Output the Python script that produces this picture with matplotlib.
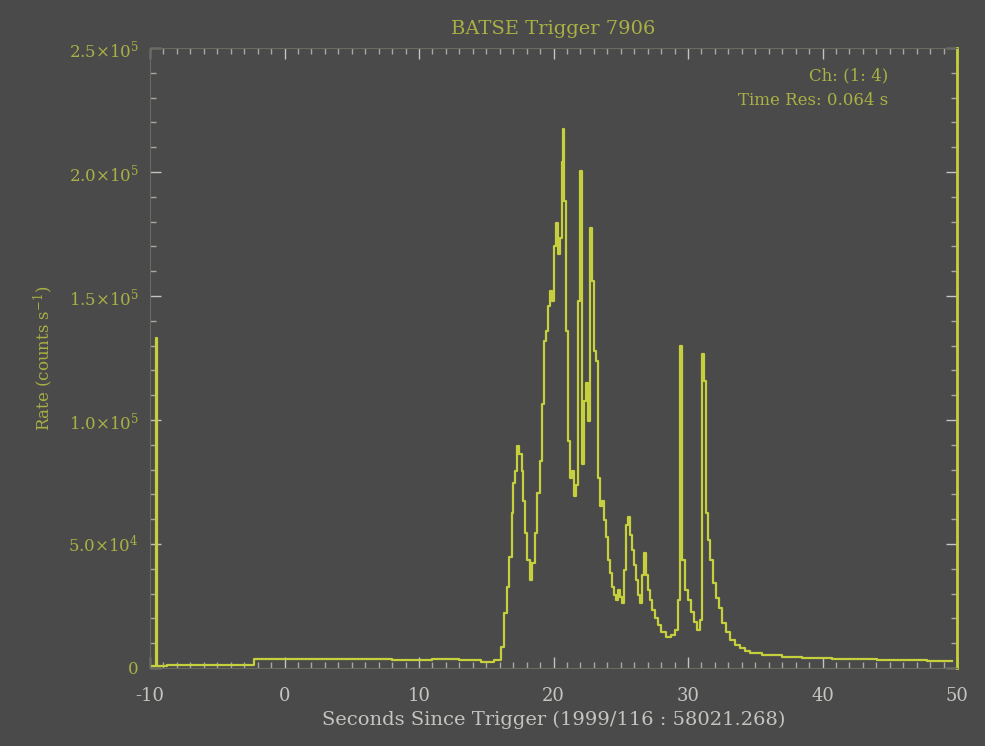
import matplotlib

matplotlib.use("Agg")
import matplotlib.pyplot as plt
from matplotlib.ticker import MultipleLocator

# light curve: seconds since trigger, counts per second
t_sec = [
    -10.0, -9.55, -9.5, -9.45, -8.0, -6.0, -4.0, -3.0, -1.5, 2.0, 6.0, 10.0, 12.0, 14.0, 15.2,
    15.93, 16.23, 16.45, 16.60, 16.83, 16.97, 17.05, 17.20, 17.35, 17.57, 17.72, 17.79,
    17.94, 18.17, 18.32, 18.54, 18.69, 18.91, 19.06, 19.21, 19.36, 19.51, 19.66, 19.81,
    19.96, 20.10, 20.25, 20.40, 20.55, 20.70, 20.77, 20.85, 21.00, 21.15, 21.30, 21.45,
    21.59, 21.74, 21.89, 22.04, 22.19, 22.34, 22.49, 22.64, 22.79, 22.94, 23.08, 23.23,
    23.38, 23.53, 23.68, 23.83, 23.98, 24.13, 24.28, 24.43, 24.58, 24.72, 24.87, 25.02,
    25.17, 25.32, 25.47, 25.62, 25.77, 25.92, 26.07, 26.22, 26.36, 26.51, 26.66, 26.81,
    26.96, 27.11, 27.26, 27.41, 27.63, 27.85, 28.15, 28.52, 28.90, 29.20, 29.34, 29.49,
    29.64, 29.87, 30.09, 30.31, 30.54, 30.76, 30.98, 31.13, 31.28, 31.43, 31.58, 31.73,
    31.95, 32.18, 32.40, 32.70, 33.00, 33.29, 33.67, 34.04, 34.41, 34.78, 36.2, 37.7,
    39.2, 42.2, 45.9, 49.6,
]
rate = [
    800, 900, 133000, 900, 1000, 1100, 1000, 1300, 3500, 3700, 3600, 3400, 3600, 3400, 2400,
    3200, 8400, 22100, 32600, 44600, 62300, 74400, 79600, 89600, 86400, 79600, 67500,
    54300, 43400, 35400, 42200, 54300, 70400, 83600, 106500, 131900, 135900, 145900, 152000,
    147900, 170000, 179300, 166800, 173300, 204200, 217500, 188100, 135900, 91700, 76800, 79600,
    69500, 73600, 147900, 200200, 82400, 107700, 115000, 99700, 177300, 156000, 127800, 123800,
    76800, 65500, 67500, 59500, 52700, 43400, 38200, 32600, 29300, 27300, 31400, 28500,
    26100, 39400, 57500, 60700, 53500, 47400, 41400, 35400, 29300, 26100, 37400, 46200,
    37400, 31400, 27300, 23300, 20100, 17300, 14500, 12500, 13300, 15300, 27300, 129800,
    43400, 31400, 27300, 22500, 18500, 15300, 19300, 126600, 115800, 62300, 51500, 43400,
    34200, 28100, 24100, 18100, 14500, 11300, 9200, 8000, 6800, 6000, 5200, 4400,
    4000, 3600, 3200, 2800,
]

y_ticks = [0, 5.0e4, 1.0e5, 1.5e5, 2.0e5, 2.5e5]
y_tick_labels = ["0", r"5.0$\times$10$^{4}$", r"1.0$\times$10$^{5}$",
                 r"1.5$\times$10$^{5}$", r"2.0$\times$10$^{5}$", r"2.5$\times$10$^{5}$"]
x_ticks = [-10, 0, 10, 20, 30, 40, 50]

bg = "#4a4a4a"
curve = "#c6cf3c"
dim = "#a9b044"
pale = "#c4c4c0"

plt.rcParams["font.family"] = ["DejaVu Serif"]
plt.rcParams["mathtext.fontset"] = "dejavuserif"

fig = plt.figure(figsize=(9.85, 7.46), dpi=100, facecolor=bg)
ax = fig.add_axes([0.1523, 0.1046, 0.8193, 0.8311], facecolor=bg)

ax.step(t_sec, rate, where="mid", color=curve, lw=1.6)

ax.set_xlim(-10, 50)
ax.set_ylim(0, 2.5e5)
ax.set_xticks(x_ticks)
ax.set_xticklabels([str(v) for v in x_ticks])
ax.xaxis.set_minor_locator(MultipleLocator(1))
ax.set_yticks(y_ticks)
ax.set_yticklabels(y_tick_labels)
ax.yaxis.set_minor_locator(MultipleLocator(1e4))

ax.tick_params(axis="both", which="both", direction="in", top=True, right=True)
ax.tick_params(axis="both", which="major", length=8, width=1, color=pale)
ax.tick_params(axis="both", which="minor", length=4, width=1, color="#a8a8a0")
ax.tick_params(axis="x", labelsize=13, labelcolor=pale, pad=14)
ax.tick_params(axis="y", labelsize=12, labelcolor=dim, pad=8)

for side in ["left", "top", "bottom"]:
    ax.spines[side].set_color("#6a6b60")
    ax.spines[side].set_linewidth(0.8)
ax.spines["right"].set_color(curve)
ax.spines["right"].set_linewidth(2)

ax.set_title("BATSE Trigger 7906", color=dim, fontsize=14, pad=10)
ax.set_xlabel("Seconds Since Trigger (1999/116 : 58021.268)", color=pale, fontsize=14, labelpad=4)
ax.set_ylabel(r"Rate (counts s$^{-1}$)", color=dim, fontsize=12, labelpad=10)

ax.text(0.915, 0.955, "Ch: (1: 4)", transform=ax.transAxes, ha="right", va="center",
        color=dim, fontsize=12)
ax.text(0.915, 0.915, "Time Res: 0.064 s", transform=ax.transAxes, ha="right", va="center",
        color=dim, fontsize=12)

fig.savefig("out.png", dpi=100, facecolor=bg)
